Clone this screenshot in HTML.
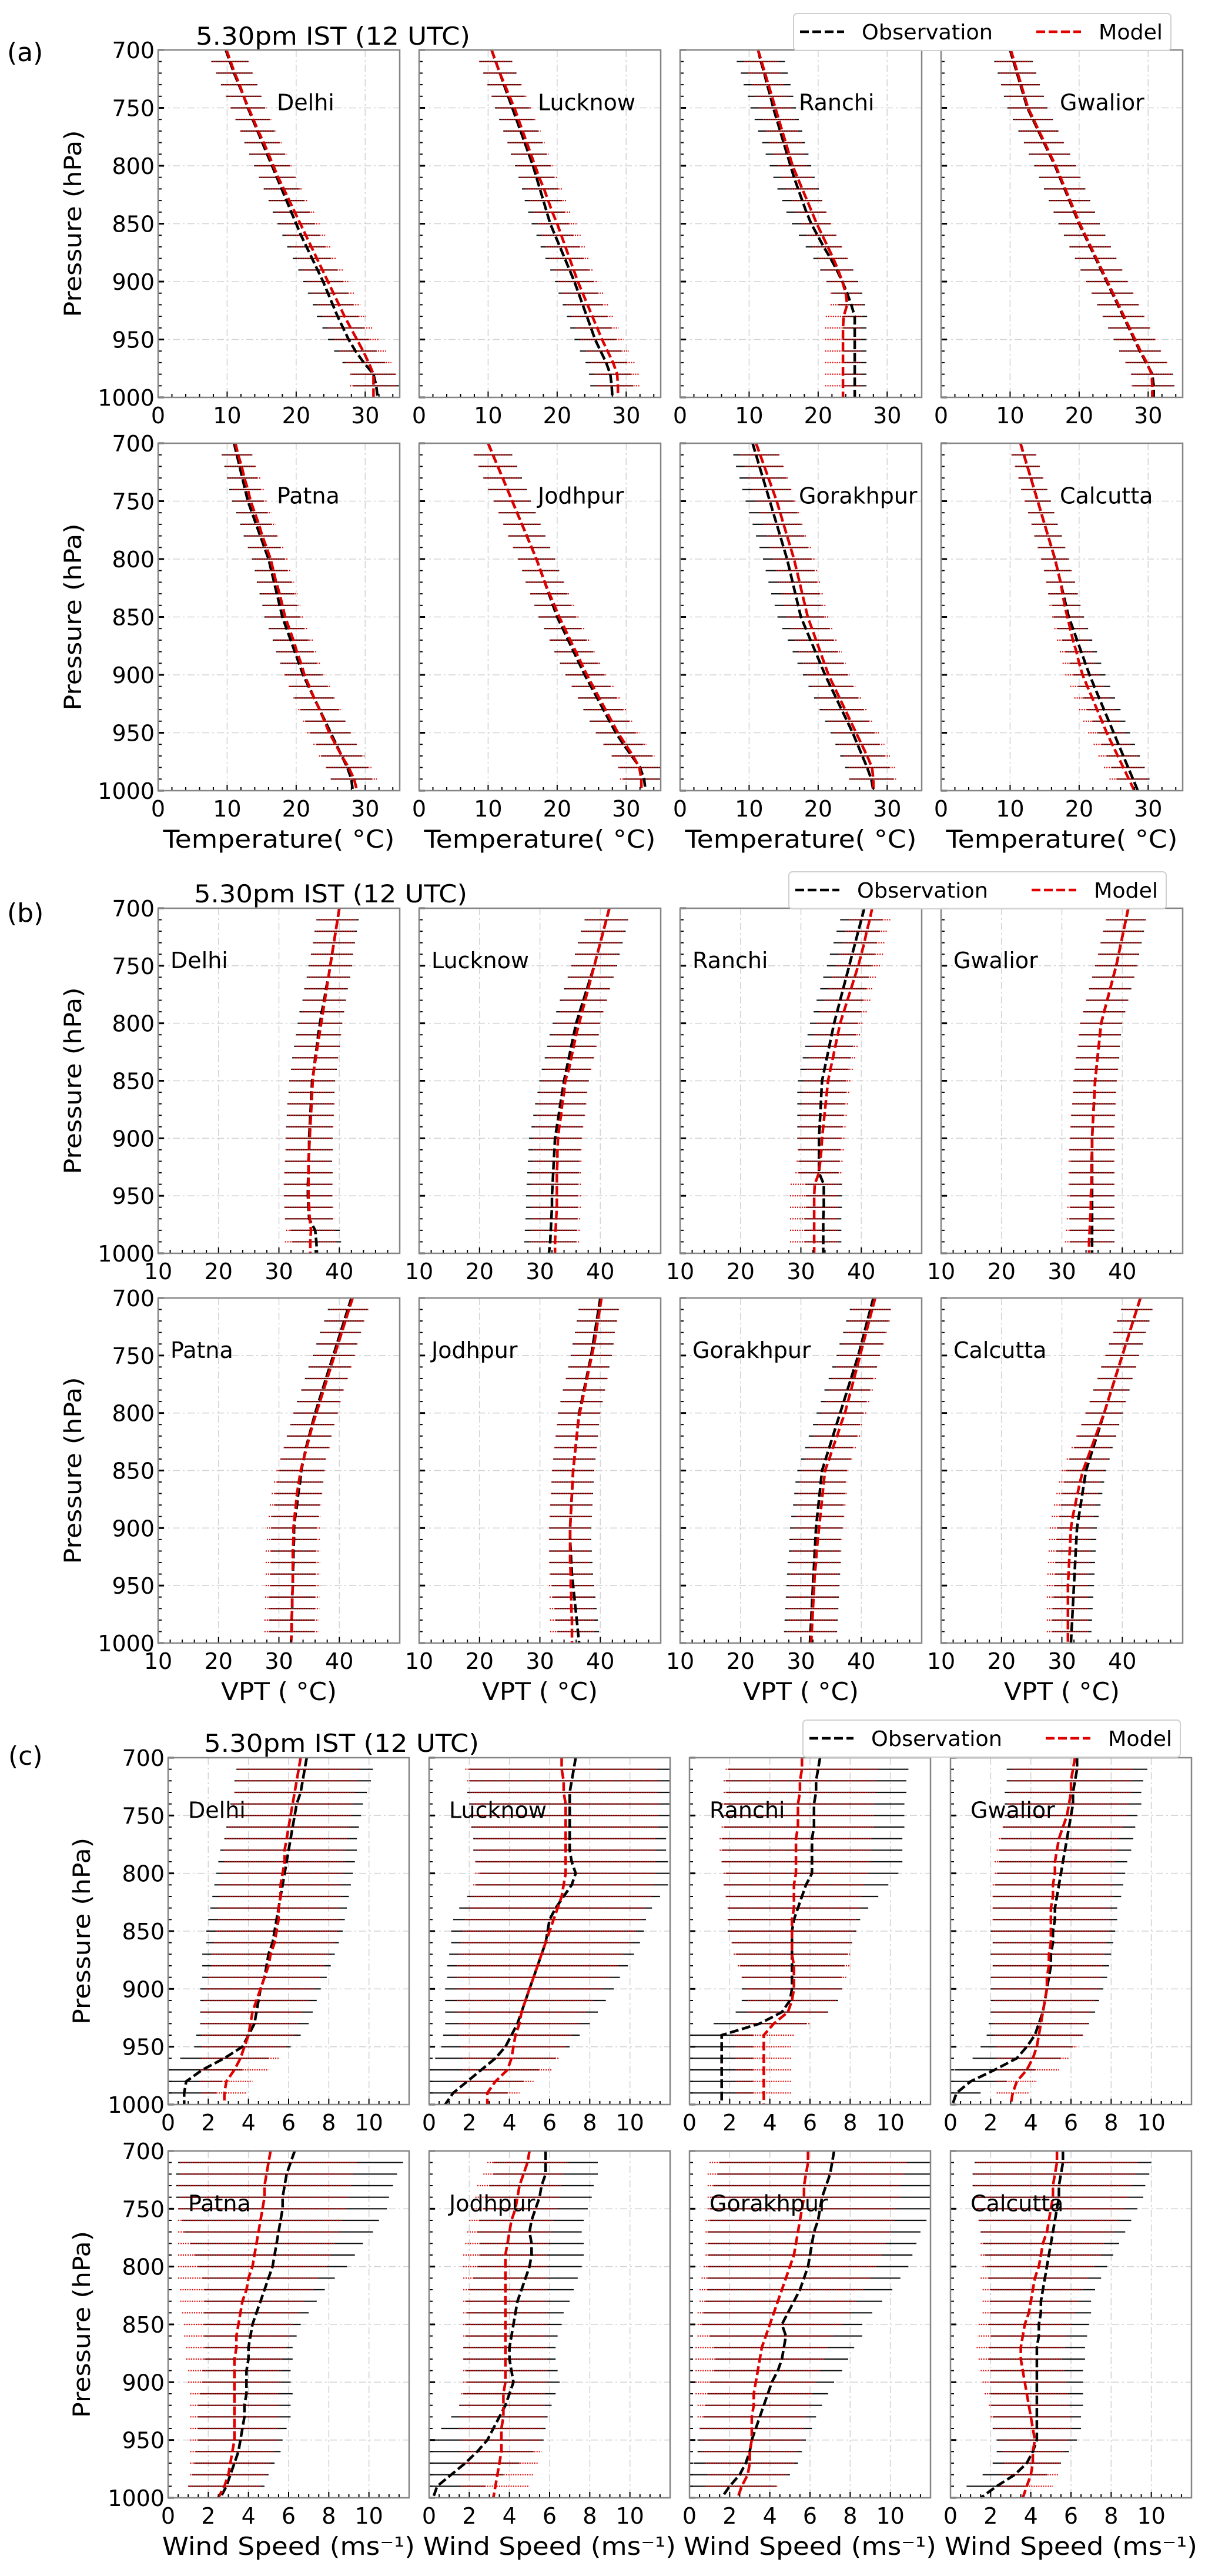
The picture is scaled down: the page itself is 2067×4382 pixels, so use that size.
<!DOCTYPE html>
<html><head><meta charset="utf-8">
<style>
html,body{margin:0;padding:0;background:#fff;}
svg{display:block;font-family:"DejaVu Sans","Liberation Sans",sans-serif;}
</style></head>
<body>
<svg id="fig" width="2067" height="4382" viewBox="0 0 2067 4382" xmlns="http://www.w3.org/2000/svg"></svg>
<script>
// ---------- pressure levels (hPa) ----------
const levels = [700,710,720,730,740,750,760,770,780,790,800,810,820,830,840,850,860,870,880,890,900,910,920,930,940,950,960,970,980,990,1000];
const stations = ["Delhi","Lucknow","Ranchi","Gwalior","Patna","Jodhpur","Gorakhpur","Calcutta"];
const tempTicks = [0,10,20,30];
const vptTicks = [10,20,30,40];
const windTicks = [0,2,4,6,8,10];
const pressureTicks = [700,750,800,850,900,950,1000];

// ---------- (a) temperature ----------
const aObsDelhi = [9.8,10.4,11.0,11.7,12.4,13.0,13.7,14.4,15.1,15.8,16.5,17.2,17.9,18.6,19.3,20.0,20.7,21.5,22.3,23.1,23.9,24.6,25.3,26.0,26.8,27.6,28.6,29.8,31.2,31.6,31.8];
const aModDelhi = [9.9,10.5,11.1,11.8,12.4,13.1,13.8,14.5,15.3,16.0,16.7,17.4,18.2,19.0,19.8,20.6,21.4,22.2,23.0,23.8,24.6,25.4,26.2,27.0,27.9,28.8,29.7,30.5,31.2,31.2,31.2];
const aEoDelhi = [2.7,2.7,2.6,2.6,2.5,2.5,2.5,2.5,2.6,2.6,2.6,2.6,2.6,2.6,2.7,2.7,2.7,2.8,2.8,2.8,2.9,2.9,2.9,3.0,3.0,3.0,3.1,3.1,3.2,3.3,3.3];
const aEmDelhi = [2.6,2.6,2.6,2.6,2.6,2.6,2.6,2.6,2.6,2.6,2.6,2.7,2.7,2.7,2.8,2.8,2.8,2.9,2.9,3.0,3.0,3.0,3.1,3.1,3.2,3.2,3.3,3.3,3.4,3.4,3.4];
const aObsLucknow = [10.5,11.1,11.7,12.3,12.9,13.5,14.1,14.7,15.3,15.9,16.5,17.0,17.5,18.0,18.5,19.0,19.7,20.4,21.1,21.8,22.5,23.1,23.7,24.3,24.9,25.5,26.3,27.1,27.7,27.9,28.0];
const aModLucknow = [10.5,11.1,11.7,12.4,13.1,13.8,14.4,15.0,15.6,16.2,16.8,17.4,18.1,18.7,19.3,20.0,20.6,21.2,21.8,22.4,23.0,23.7,24.4,25.1,25.8,26.5,27.3,28.1,28.7,28.8,28.8];
const aEoLucknow = [2.4,2.4,2.4,2.4,2.4,2.5,2.5,2.5,2.5,2.6,2.6,2.6,2.6,2.7,2.7,2.7,2.7,2.8,2.8,2.8,2.8,2.9,2.9,2.9,3.0,3.0,3.0,3.0,3.1,3.1,3.1];
const aEmLucknow = [2.4,2.4,2.4,2.5,2.5,2.5,2.5,2.6,2.6,2.6,2.6,2.7,2.7,2.7,2.7,2.8,2.8,2.8,2.9,2.9,2.9,3.0,3.0,3.0,3.1,3.1,3.1,3.2,3.2,3.2,3.2];
const aObsRanchi = [11.3,11.7,12.2,12.6,13.1,13.5,14.0,14.5,15.0,15.5,16.0,16.5,17.1,17.7,18.3,19.0,19.9,20.8,21.8,22.7,23.5,24.2,24.8,25.3,25.3,25.3,25.3,25.3,25.3,25.3,25.3];
const aModRanchi = [11.3,11.8,12.3,12.8,13.3,13.8,14.3,14.8,15.3,15.8,16.3,17.0,17.7,18.4,19.1,19.8,20.6,21.4,22.2,22.9,23.5,24.0,24.2,23.7,23.6,23.6,23.6,23.6,23.6,23.6,23.6];
const aEoRanchi = [3.5,3.5,3.4,3.4,3.3,3.3,3.2,3.2,3.1,3.1,3.0,3.0,3.0,2.9,2.9,2.8,2.7,2.6,2.5,2.4,2.3,2.2,2.0,1.8,1.7,1.7,1.7,1.7,1.7,1.7,1.7];
const aEmRanchi = [2.5,2.5,2.4,2.4,2.4,2.3,2.3,2.3,2.3,2.2,2.2,2.2,2.2,2.2,2.2,2.2,2.2,2.2,2.2,2.2,2.2,2.2,2.4,2.6,2.6,2.6,2.6,2.6,2.6,2.6,2.6];
const aObsGwalior = [10.0,10.5,11.0,11.5,12.0,12.5,13.3,14.1,14.9,15.7,16.5,17.2,17.9,18.6,19.3,20.0,20.8,21.6,22.4,23.2,24.0,24.8,25.6,26.4,27.2,28.0,28.8,29.7,30.6,30.8,30.8];
const aModGwalior = [10.1,10.6,11.1,11.6,12.1,12.6,13.4,14.2,15.0,15.8,16.6,17.3,18.0,18.7,19.4,20.1,20.9,21.7,22.5,23.3,24.1,24.9,25.7,26.5,27.3,28.1,28.9,29.8,30.5,30.6,30.6];
const aEoGwalior = [2.8,2.8,2.8,2.8,2.9,2.9,2.9,2.9,2.9,3.0,3.0,3.0,3.0,3.0,3.0,3.0,3.0,3.0,3.0,3.0,3.0,3.0,3.0,3.0,3.0,3.0,3.0,3.0,3.0,3.0,3.0];
const aEmGwalior = [2.6,2.6,2.6,2.7,2.7,2.7,2.7,2.8,2.8,2.8,2.8,2.8,2.8,2.9,2.9,2.9,2.9,2.9,2.9,3.0,3.0,3.0,3.0,3.0,3.0,3.0,3.0,3.0,3.0,3.0,3.0];
const aObsPatna = [11.0,11.4,11.8,12.2,12.6,13.0,13.6,14.2,14.8,15.4,16.0,16.4,16.8,17.2,17.6,18.0,18.6,19.2,19.8,20.4,21.0,21.8,22.6,23.4,24.2,25.0,25.8,26.6,27.4,28.0,28.2];
const aModPatna = [11.2,11.6,12.1,12.5,13.0,13.4,14.0,14.6,15.1,15.7,16.3,16.7,17.1,17.6,18.0,18.4,19.0,19.6,20.1,20.7,21.2,21.9,22.6,23.4,24.1,24.8,25.7,26.6,27.6,28.4,28.8];
const aEoPatna = [2.2,2.2,2.2,2.2,2.3,2.3,2.3,2.3,2.4,2.4,2.4,2.4,2.5,2.5,2.5,2.6,2.6,2.6,2.7,2.7,2.7,2.8,2.8,2.8,2.9,2.9,2.9,3.0,3.0,3.0,3.0];
const aEmPatna = [2.2,2.2,2.2,2.3,2.3,2.3,2.4,2.4,2.4,2.5,2.5,2.5,2.6,2.6,2.6,2.7,2.7,2.8,2.8,2.9,2.9,3.0,3.0,3.1,3.1,3.2,3.2,3.3,3.3,3.3,3.3];
const aObsJodhpur = [10.0,10.7,11.4,12.1,12.8,13.5,14.2,14.9,15.6,16.3,17.0,17.6,18.2,18.8,19.4,20.0,20.8,21.6,22.4,23.2,24.0,24.9,25.8,26.7,27.6,28.5,29.6,30.8,32.0,32.6,32.8];
const aModJodhpur = [10.0,10.7,11.4,12.1,12.8,13.5,14.2,14.9,15.6,16.3,17.0,17.6,18.2,18.9,19.6,20.3,21.1,21.9,22.7,23.5,24.3,25.2,26.1,27.0,27.9,28.8,29.9,31.0,31.9,32.2,32.2];
const aEoJodhpur = [2.8,2.8,2.8,2.8,2.8,2.7,2.7,2.7,2.7,2.7,2.7,2.7,2.7,2.7,2.7,2.7,2.7,2.7,2.8,2.8,2.8,2.8,2.8,2.9,2.9,2.9,2.9,2.9,3.0,3.0,3.0];
const aEmJodhpur = [2.7,2.7,2.7,2.7,2.7,2.7,2.7,2.7,2.7,2.7,2.7,2.7,2.8,2.8,2.8,2.8,2.8,2.9,2.9,2.9,2.9,3.0,3.0,3.0,3.0,3.1,3.1,3.1,3.1,3.1,3.1];
const aObsGorakhpur = [10.5,11.0,11.5,12.0,12.5,13.0,13.5,14.0,14.5,15.0,15.5,15.9,16.3,16.7,17.1,17.5,18.2,18.9,19.6,20.3,21.0,21.8,22.6,23.4,24.2,25.0,25.7,26.4,27.1,27.7,28.0];
const aModGorakhpur = [11.0,11.6,12.2,12.8,13.4,14.0,14.5,15.0,15.5,16.0,16.5,16.9,17.3,17.7,18.1,18.5,19.1,19.7,20.3,20.9,21.5,22.3,23.1,23.9,24.7,25.5,26.3,27.1,27.8,28.0,28.0];
const aEoGorakhpur = [3.3,3.3,3.4,3.4,3.5,3.5,3.5,3.5,3.5,3.5,3.5,3.5,3.5,3.5,3.4,3.4,3.4,3.3,3.3,3.3,3.2,3.2,3.2,3.2,3.2,3.2,3.2,3.2,3.2,3.2,3.2];
const aEmGorakhpur = [2.8,2.8,2.8,2.8,2.9,2.9,2.9,2.9,2.9,3.0,3.0,3.0,3.0,3.0,3.0,3.0,3.0,3.0,3.1,3.1,3.1,3.1,3.2,3.2,3.2,3.3,3.3,3.3,3.3,3.3,3.3];
const aObsCalcutta = [11.5,12.0,12.5,13.0,13.5,14.0,14.5,15.0,15.5,16.0,16.5,16.9,17.3,17.7,18.1,18.5,19.1,19.7,20.3,20.9,21.5,22.2,22.9,23.6,24.3,25.0,25.7,26.4,27.1,27.8,28.5];
const aModCalcutta = [11.5,12.0,12.5,13.0,13.5,14.0,14.5,15.0,15.5,16.0,16.5,16.9,17.3,17.6,17.9,18.3,18.7,19.1,19.6,20.0,20.5,21.2,21.9,22.6,23.3,24.0,24.8,25.6,26.4,27.2,28.0];
const aEoCalcutta = [1.8,1.8,1.8,1.8,1.9,1.9,1.9,1.9,2.0,2.0,2.0,2.0,2.1,2.1,2.1,2.2,2.2,2.2,2.3,2.3,2.3,2.3,2.3,2.4,2.4,2.4,2.4,2.4,2.4,2.4,2.4];
const aEmCalcutta = [1.8,1.8,1.8,1.8,1.8,1.9,1.9,1.9,1.9,2.0,2.0,2.0,2.1,2.1,2.2,2.2,2.3,2.3,2.4,2.4,2.5,2.5,2.6,2.6,2.7,2.7,2.7,2.8,2.8,2.8,2.8];

// ---------- (b) virtual potential temperature ----------
const bObsDelhi = [40.0,39.7,39.4,39.1,38.8,38.5,38.2,37.8,37.5,37.1,36.8,36.5,36.3,36.0,35.8,35.5,35.4,35.3,35.2,35.1,35.0,35.0,34.9,34.9,34.8,34.8,34.9,35.0,36.0,36.2,36.3];
const bModDelhi = [40.0,39.7,39.4,39.1,38.8,38.5,38.2,37.9,37.6,37.3,37.0,36.7,36.4,36.1,35.8,35.6,35.5,35.4,35.3,35.2,35.1,35.0,34.9,34.9,34.9,34.9,35.0,35.1,35.3,35.2,35.2];
const bEoDelhi = [3.5,3.5,3.5,3.5,3.5,3.6,3.6,3.6,3.6,3.7,3.7,3.7,3.8,3.8,3.8,3.8,3.8,3.9,3.9,3.9,3.9,3.9,3.9,4.0,4.0,4.0,4.0,4.0,4.1,4.1,4.1];
const bEmDelhi = [3.3,3.3,3.3,3.4,3.4,3.4,3.4,3.5,3.5,3.5,3.5,3.6,3.6,3.6,3.7,3.7,3.7,3.8,3.8,3.8,3.9,3.9,3.9,4.0,4.0,4.0,4.1,4.1,4.1,4.2,4.2];
const bObsLucknow = [41.5,41.0,40.5,40.0,39.5,39.0,38.4,37.8,37.2,36.6,36.0,35.6,35.2,34.8,34.4,34.0,33.7,33.4,33.1,32.8,32.5,32.4,32.3,32.2,32.1,32.0,32.0,31.9,31.8,31.7,31.5];
const bModLucknow = [41.5,41.0,40.5,40.0,39.5,39.0,38.5,38.0,37.5,37.0,36.5,36.0,35.6,35.2,34.8,34.2,34.0,33.7,33.5,33.2,33.0,32.9,32.9,32.8,32.8,32.8,32.8,32.7,32.6,32.5,32.5];
const bEoLucknow = [3.6,3.6,3.7,3.7,3.7,3.8,3.8,3.8,3.9,3.9,3.9,4.0,4.0,4.0,4.1,4.1,4.1,4.2,4.2,4.2,4.3,4.3,4.3,4.3,4.3,4.3,4.3,4.3,4.3,4.3,4.3];
const bEmLucknow = [3.4,3.4,3.5,3.5,3.5,3.6,3.6,3.6,3.7,3.7,3.7,3.8,3.8,3.8,3.9,3.9,3.9,4.0,4.0,4.0,4.0,4.0,4.0,4.0,4.0,4.0,4.0,4.0,4.0,4.0,4.0];
const bObsRanchi = [40.5,40.0,39.5,39.0,38.5,38.0,37.5,37.0,36.5,36.0,35.5,35.1,34.7,34.3,33.9,33.5,33.4,33.3,33.2,33.1,33.0,33.0,33.0,33.0,33.8,33.8,33.8,33.7,33.7,33.7,33.7];
const bModRanchi = [41.8,41.4,40.9,40.5,40.0,39.5,38.9,38.3,37.7,37.1,36.5,36.1,35.7,35.3,34.9,34.5,34.3,34.1,33.9,33.7,33.5,33.4,33.2,33.0,32.3,32.2,32.2,32.2,32.2,32.2,32.2];
const bEoRanchi = [3.5,3.5,3.6,3.6,3.7,3.7,3.8,3.8,3.9,3.9,4.0,4.0,4.0,4.0,4.0,4.0,4.0,3.9,3.8,3.7,3.6,3.5,3.4,3.3,3.0,3.0,3.0,3.0,3.0,3.0,3.0];
const bEmRanchi = [3.4,3.4,3.5,3.5,3.6,3.6,3.7,3.7,3.8,3.8,3.9,3.9,3.9,3.9,3.9,3.9,3.9,3.9,3.9,3.9,3.9,3.9,3.9,3.9,4.0,4.0,4.0,4.0,4.0,4.0,4.0];
const bObsGwalior = [41.0,40.6,40.2,39.8,39.4,39.0,38.5,38.0,37.5,37.0,36.5,36.3,36.1,35.9,35.7,35.5,35.4,35.3,35.2,35.1,35.0,35.0,35.0,35.0,35.0,35.0,35.0,35.0,35.0,35.0,35.0];
const bModGwalior = [41.0,40.6,40.2,39.8,39.4,39.0,38.5,38.0,37.5,37.0,36.5,36.3,36.1,35.9,35.7,35.5,35.4,35.3,35.2,35.1,35.0,35.0,34.9,34.9,34.9,34.8,34.8,34.7,34.6,34.5,34.5];
const bEoGwalior = [3.3,3.3,3.4,3.4,3.4,3.5,3.5,3.5,3.5,3.5,3.5,3.5,3.5,3.6,3.6,3.6,3.6,3.6,3.6,3.6,3.6,3.6,3.6,3.7,3.7,3.7,3.7,3.7,3.7,3.7,3.7];
const bEmGwalior = [3.2,3.2,3.3,3.3,3.3,3.4,3.4,3.4,3.4,3.5,3.5,3.5,3.5,3.5,3.6,3.6,3.6,3.6,3.7,3.7,3.7,3.8,3.8,3.8,3.8,3.9,3.9,3.9,3.9,4.0,4.0];
const bObsPatna = [42.0,41.4,40.8,40.2,39.6,39.0,38.4,37.8,37.2,36.6,36.0,35.5,35.0,34.5,34.1,33.7,33.5,33.2,33.0,32.7,32.5,32.5,32.4,32.4,32.3,32.3,32.2,32.2,32.1,32.1,32.0];
const bModPatna = [42.2,41.6,41.0,40.4,39.8,39.2,38.6,38.0,37.4,36.8,36.2,35.6,35.1,34.6,34.1,33.6,33.3,33.0,32.8,32.6,32.4,32.4,32.3,32.3,32.3,32.3,32.2,32.2,32.1,32.1,32.0];
const bEoPatna = [3.3,3.3,3.3,3.4,3.4,3.4,3.5,3.5,3.5,3.6,3.6,3.6,3.7,3.7,3.7,3.8,3.8,3.8,3.8,3.8,3.8,3.8,3.8,3.8,3.8,3.8,3.8,3.8,3.8,3.8,3.8];
const bEmPatna = [3.2,3.2,3.3,3.3,3.3,3.4,3.4,3.4,3.5,3.5,3.6,3.6,3.7,3.8,3.9,4.0,4.1,4.2,4.3,4.3,4.4,4.4,4.5,4.5,4.5,4.5,4.5,4.5,4.5,4.5,4.5];
const bObsJodhpur = [40.0,39.7,39.4,39.1,38.8,38.5,38.1,37.7,37.3,36.9,36.5,36.3,36.1,35.9,35.7,35.5,35.4,35.3,35.2,35.1,35.0,35.0,35.1,35.2,35.3,35.5,35.7,35.9,36.1,36.3,36.5];
const bModJodhpur = [40.2,39.9,39.6,39.3,39.0,38.6,38.2,37.8,37.4,37.0,36.6,36.3,36.1,35.9,35.7,35.5,35.4,35.3,35.2,35.1,35.0,35.0,35.0,35.0,35.1,35.1,35.2,35.2,35.3,35.3,35.3];
const bEoJodhpur = [3.3,3.3,3.3,3.3,3.4,3.4,3.4,3.4,3.5,3.5,3.5,3.5,3.5,3.5,3.5,3.5,3.5,3.5,3.5,3.5,3.5,3.5,3.5,3.5,3.5,3.5,3.5,3.5,3.5,3.5,3.5];
const bEmJodhpur = [3.2,3.2,3.2,3.3,3.3,3.3,3.3,3.4,3.4,3.4,3.4,3.4,3.5,3.5,3.5,3.5,3.5,3.5,3.5,3.5,3.5,3.5,3.5,3.5,3.5,3.6,3.6,3.6,3.6,3.6,3.6];
const bObsGorakhpur = [42.0,41.5,41.0,40.5,40.0,39.5,38.9,38.3,37.7,37.1,36.5,35.9,35.3,34.7,34.1,33.5,33.3,33.1,32.9,32.7,32.5,32.4,32.3,32.2,32.1,32.0,31.9,31.8,31.7,31.6,31.5];
const bModGorakhpur = [42.3,41.8,41.3,40.8,40.3,39.8,39.3,38.8,38.3,37.8,37.3,36.6,36.0,35.3,34.7,34.0,33.8,33.6,33.4,33.2,33.0,32.8,32.6,32.5,32.3,32.2,32.1,32.0,31.9,31.8,31.7];
const bEoGorakhpur = [3.4,3.4,3.5,3.5,3.6,3.6,3.7,3.7,3.8,3.8,3.9,3.9,4.0,4.0,4.1,4.1,4.2,4.2,4.2,4.3,4.3,4.3,4.3,4.4,4.4,4.4,4.4,4.4,4.4,4.4,4.4];
const bEmGorakhpur = [3.3,3.3,3.4,3.4,3.4,3.5,3.5,3.6,3.6,3.7,3.7,3.7,3.8,3.8,3.9,3.9,3.9,4.0,4.0,4.0,4.0,4.1,4.1,4.1,4.1,4.1,4.1,4.1,4.1,4.1,4.1];
const bObsCalcutta = [43.0,42.4,41.8,41.2,40.6,40.0,39.4,38.8,38.2,37.6,37.0,36.4,35.8,35.2,34.6,34.0,33.7,33.4,33.1,32.8,32.5,32.4,32.3,32.2,32.1,32.0,31.9,31.8,31.7,31.6,31.5];
const bModCalcutta = [43.0,42.4,41.8,41.2,40.6,40.0,39.4,38.8,38.2,37.6,37.0,36.3,35.6,34.9,34.2,33.5,33.0,32.6,32.2,31.8,31.5,31.4,31.3,31.2,31.1,31.0,31.0,31.0,31.0,31.0,31.0];
const bEoCalcutta = [2.6,2.6,2.7,2.7,2.8,2.8,2.9,2.9,3.0,3.0,3.1,3.1,3.2,3.2,3.3,3.3,3.3,3.3,3.3,3.3,3.3,3.3,3.3,3.3,3.3,3.3,3.3,3.3,3.3,3.3,3.3];
const bEmCalcutta = [2.6,2.6,2.7,2.7,2.7,2.8,2.8,2.9,2.9,3.0,3.0,3.1,3.2,3.3,3.4,3.5,3.5,3.5,3.5,3.5,3.5,3.5,3.5,3.5,3.5,3.5,3.5,3.5,3.5,3.5,3.5];

// ---------- (c) wind speed ----------
const cObsDelhi = [6.9,6.8,6.7,6.6,6.4,6.3,6.2,6.1,6.0,5.9,5.8,5.7,5.6,5.5,5.4,5.3,5.2,5.0,4.9,4.8,4.6,4.5,4.4,4.3,4.0,3.7,2.8,1.7,0.9,0.8,0.8];
const cModDelhi = [6.6,6.5,6.4,6.3,6.2,6.1,6.0,5.9,5.8,5.8,5.7,5.6,5.6,5.5,5.5,5.4,5.3,5.1,5.0,4.8,4.6,4.4,4.2,4.1,4.0,3.8,3.6,3.3,2.9,2.8,2.8];
const cEoDelhi = [3.4,3.4,3.4,3.3,3.3,3.3,3.3,3.3,3.4,3.4,3.4,3.4,3.4,3.4,3.4,3.4,3.3,3.3,3.2,3.1,3.0,2.9,2.8,2.7,2.6,2.4,2.2,2.0,1.8,1.6,1.6];
const cEmDelhi = [3.0,3.0,3.0,3.0,3.0,3.0,3.0,3.0,3.0,3.0,3.0,3.0,3.0,3.0,3.0,3.0,3.0,2.9,2.8,2.8,2.7,2.6,2.5,2.4,2.3,2.1,1.9,1.7,1.3,1.1,1.1];
const cObsLucknow = [7.3,7.2,7.1,7.0,7.0,7.0,7.0,7.0,7.0,7.1,7.3,7.1,6.7,6.3,6.0,5.9,5.8,5.6,5.4,5.2,5.0,4.8,4.6,4.4,4.1,3.8,3.3,2.6,1.9,1.2,0.8];
const cModLucknow = [6.6,6.6,6.7,6.7,6.8,6.8,6.8,6.8,6.8,6.8,6.8,6.7,6.6,6.4,6.2,6.0,5.8,5.6,5.4,5.2,5.0,4.8,4.6,4.5,4.3,4.2,4.1,3.9,3.3,2.9,2.9];
const cEoLucknow = [5.2,5.2,5.1,5.1,5.0,5.0,4.9,4.8,4.8,4.8,4.8,4.8,4.8,4.8,4.8,4.8,4.7,4.6,4.5,4.3,4.2,4.0,3.8,3.6,3.4,3.2,3.0,2.9,2.8,2.7,2.6];
const cEmLucknow = [4.8,4.8,4.8,4.7,4.7,4.6,4.6,4.5,4.5,4.5,4.5,4.5,4.5,4.4,4.4,4.3,4.2,4.1,4.0,3.8,3.6,3.4,3.2,3.0,2.8,2.6,2.4,2.2,1.9,1.6,1.6];
const cObsRanchi = [6.5,6.4,6.3,6.3,6.2,6.2,6.2,6.1,6.1,6.1,6.1,5.8,5.6,5.4,5.2,5.1,5.1,5.1,5.1,5.1,5.1,5.0,4.6,3.5,1.6,1.6,1.6,1.6,1.6,1.6,1.6];
const cModRanchi = [5.6,5.6,5.5,5.5,5.4,5.4,5.4,5.3,5.3,5.3,5.3,5.2,5.2,5.2,5.1,5.1,5.1,5.1,5.2,5.2,5.2,5.1,4.9,4.2,3.7,3.7,3.7,3.7,3.7,3.7,3.7];
const cEoRanchi = [4.5,4.5,4.5,4.5,4.5,4.5,4.5,4.5,4.5,4.5,4.3,4.1,3.8,3.5,3.3,3.2,3.0,2.8,2.6,2.5,2.5,2.4,2.3,2.3,1.6,1.6,1.6,1.6,1.6,1.6,1.6];
const cEmRanchi = [3.8,3.8,3.8,3.8,3.8,3.8,3.8,3.8,3.8,3.7,3.6,3.5,3.4,3.3,3.2,3.1,3.0,2.9,2.8,2.6,2.4,2.2,2.0,1.8,1.5,1.4,1.4,1.4,1.4,1.4,1.4];
const cObsGwalior = [6.3,6.3,6.2,6.1,6.1,6.0,5.9,5.8,5.7,5.6,5.5,5.4,5.3,5.2,5.2,5.1,5.1,5.0,5.0,4.9,4.8,4.7,4.6,4.4,4.2,3.8,3.3,2.2,1.0,0.3,0.1];
const cModGwalior = [6.2,6.1,6.0,6.0,5.9,5.8,5.6,5.4,5.3,5.2,5.2,5.1,5.1,5.0,5.0,5.0,5.0,4.9,4.9,4.8,4.8,4.7,4.6,4.5,4.4,4.3,4.1,3.8,3.3,3.1,3.0];
const cEoGwalior = [3.5,3.5,3.4,3.4,3.4,3.3,3.3,3.3,3.3,3.2,3.2,3.2,3.2,3.1,3.1,3.1,3.0,3.0,2.9,2.9,2.8,2.7,2.6,2.5,2.4,2.3,2.2,2.0,1.8,1.2,1.0];
const cEmGwalior = [3.0,3.0,3.0,3.0,3.0,3.0,3.0,3.0,3.0,3.0,3.0,3.0,3.0,2.9,2.9,2.9,2.8,2.8,2.7,2.7,2.6,2.5,2.4,2.3,2.2,2.0,1.8,1.6,1.0,0.8,0.8];
const cObsPatna = [6.3,6.1,5.9,5.8,5.7,5.7,5.6,5.5,5.4,5.3,5.2,5.0,4.8,4.6,4.4,4.2,4.1,4.0,4.0,3.9,3.9,3.9,3.8,3.8,3.7,3.6,3.5,3.3,3.1,2.9,2.6];
const cModPatna = [5.1,5.0,4.9,4.8,4.8,4.7,4.6,4.5,4.4,4.3,4.2,4.0,3.9,3.7,3.6,3.5,3.4,3.4,3.3,3.3,3.3,3.3,3.3,3.3,3.3,3.3,3.2,3.1,3.0,2.8,2.5];
const cEoPatna = [5.6,5.6,5.5,5.4,5.3,5.2,4.9,4.7,4.3,4.0,3.7,3.3,3.0,2.8,2.6,2.4,2.3,2.2,2.2,2.2,2.2,2.3,2.3,2.3,2.2,2.1,2.1,2.0,1.9,1.9,1.9];
const cEmPatna = [4.4,4.4,4.3,4.3,4.2,4.2,4.1,4.0,3.9,3.8,3.7,3.5,3.3,3.1,2.9,2.7,2.6,2.5,2.4,2.3,2.3,2.2,2.2,2.2,2.2,2.2,2.1,2.0,1.9,1.8,1.8];
const cObsJodhpur = [5.8,5.8,5.8,5.6,5.5,5.3,5.1,5.0,5.1,5.1,5.0,4.8,4.6,4.4,4.3,4.2,4.1,4.0,4.0,4.1,4.2,4.0,3.8,3.5,3.2,2.9,2.4,1.8,1.1,0.4,0.2];
const cModJodhpur = [5.0,4.9,4.7,4.5,4.4,4.3,4.1,4.0,3.9,3.8,3.8,3.8,3.8,3.8,3.8,3.8,3.8,3.8,3.8,3.8,3.8,3.7,3.7,3.7,3.6,3.6,3.6,3.5,3.4,3.3,3.2];
const cEoJodhpur = [2.6,2.6,2.6,2.6,2.6,2.6,2.6,2.6,2.6,2.6,2.6,2.6,2.6,2.6,2.4,2.4,2.3,2.3,2.3,2.3,2.3,2.3,2.3,2.4,2.6,2.8,2.8,2.7,2.6,2.4,2.2];
const cEmJodhpur = [2.0,2.0,2.0,2.1,2.1,2.1,2.1,2.1,2.1,2.1,2.1,2.1,2.1,2.1,2.1,2.1,2.1,2.1,2.1,2.1,2.1,2.1,2.1,2.1,2.1,2.0,2.0,1.9,1.8,1.7,1.6];
const cObsGorakhpur = [7.2,7.1,7.0,6.8,6.6,6.5,6.4,6.2,6.1,6.0,5.9,5.7,5.5,5.2,4.9,4.6,4.8,4.7,4.6,4.4,4.1,3.9,3.7,3.5,3.3,3.1,3.0,2.8,2.5,2.0,1.6];
const cModGorakhpur = [5.9,5.9,5.8,5.7,5.7,5.6,5.5,5.4,5.3,5.2,5.0,4.8,4.6,4.4,4.2,4.0,3.8,3.6,3.5,3.4,3.3,3.2,3.2,3.1,3.1,3.1,3.0,3.0,2.9,2.6,2.4];
const cEoGorakhpur = [5.5,5.6,5.6,5.6,5.5,5.5,5.4,5.3,5.2,5.1,5.0,4.8,4.6,4.4,4.2,4.0,3.8,3.5,3.3,3.2,3.1,3.0,2.9,2.8,2.8,2.7,2.6,2.6,2.5,2.3,2.0];
const cEmGorakhpur = [4.9,4.9,4.9,4.8,4.8,4.7,4.7,4.6,4.5,4.4,4.3,4.2,4.1,3.9,3.8,3.6,3.4,3.3,3.2,3.1,3.0,2.9,2.8,2.7,2.6,2.5,2.4,2.2,2.0,1.8,1.7];
const cObsCalcutta = [5.6,5.6,5.5,5.4,5.4,5.3,5.2,5.1,5.0,4.9,4.8,4.7,4.6,4.5,4.5,4.4,4.4,4.3,4.3,4.3,4.3,4.3,4.3,4.3,4.3,4.3,4.1,3.8,3.2,2.3,1.5];
const cModCalcutta = [5.3,5.3,5.2,5.1,5.1,5.0,4.9,4.8,4.6,4.5,4.4,4.2,4.1,4.0,3.9,3.7,3.6,3.5,3.5,3.6,3.7,3.8,3.9,4.0,4.1,4.2,4.1,4.1,4.0,3.8,3.6];
const cEoCalcutta = [4.4,4.4,4.4,4.3,4.2,4.0,3.8,3.6,3.4,3.2,3.0,2.8,2.6,2.5,2.5,2.5,2.4,2.4,2.4,2.3,2.3,2.3,2.3,2.2,2.2,2.0,1.8,1.7,1.6,1.5,1.5];
const cEmCalcutta = [4.0,4.0,4.0,3.9,3.8,3.7,3.5,3.3,3.1,3.0,2.8,2.7,2.5,2.4,2.3,2.3,2.2,2.2,2.1,2.1,2.1,2.1,2.0,2.0,1.9,1.7,1.5,1.4,1.4,1.3,1.3];

const NS = "http://www.w3.org/2000/svg";
const svg = document.getElementById("fig");
function el(tag, parent, attrs) {
  const e = document.createElementNS(NS, tag);
  for (const k in attrs) e.setAttribute(k, attrs[k]);
  parent.appendChild(e);
  return e;
}
function txt(parent, x, y, s, size, extra) {
  const t = el("text", parent, Object.assign({x: x, y: y, "font-size": size, fill: "#000"}, extra || {}));
  t.textContent = s;
  return t;
}
const defs = el("defs", svg, {});

const sections = [
  {key: "a", tops: [85, 754], h: 591, lefts: [269,713,1157,1601], w: 411, xmin: 0, xmax: 35, ticks: tempTicks, minor: 2,
   xlabel: "Temperature( °C)", xlabelLen: 394, nameDx: 202, ylabelX: 125,
   obs: [aObsDelhi,aObsLucknow,aObsRanchi,aObsGwalior,aObsPatna,aObsJodhpur,aObsGorakhpur,aObsCalcutta],
   mod: [aModDelhi,aModLucknow,aModRanchi,aModGwalior,aModPatna,aModJodhpur,aModGorakhpur,aModCalcutta],
   eo: [aEoDelhi,aEoLucknow,aEoRanchi,aEoGwalior,aEoPatna,aEoJodhpur,aEoGorakhpur,aEoCalcutta],
   em: [aEmDelhi,aEmLucknow,aEmRanchi,aEmGwalior,aEmPatna,aEmJodhpur,aEmGorakhpur,aEmCalcutta],
   title: {x: 333, y: 76, len: 467}, letter: {x: 12, y: 104, s: "(a)"}, legend: {x: 1350, y: 23}},
  {key: "b", tops: [1545, 2208], h: 587, lefts: [269,713,1157,1601], w: 411, xmin: 10, xmax: 50, ticks: vptTicks, minor: 2,
   xlabel: "VPT ( °C)", xlabelLen: 197, nameDx: 21, ylabelX: 125,
   obs: [bObsDelhi,bObsLucknow,bObsRanchi,bObsGwalior,bObsPatna,bObsJodhpur,bObsGorakhpur,bObsCalcutta],
   mod: [bModDelhi,bModLucknow,bModRanchi,bModGwalior,bModPatna,bModJodhpur,bModGorakhpur,bModCalcutta],
   eo: [bEoDelhi,bEoLucknow,bEoRanchi,bEoGwalior,bEoPatna,bEoJodhpur,bEoGorakhpur,bEoCalcutta],
   em: [bEmDelhi,bEmLucknow,bEmRanchi,bEmGwalior,bEmPatna,bEmJodhpur,bEmGorakhpur,bEmCalcutta],
   title: {x: 330, y: 1535, len: 465}, letter: {x: 12, y: 1568, s: "(b)"}, legend: {x: 1342, y: 1483}},
  {key: "c", tops: [2990, 3659], h: 590, lefts: [286,730,1173,1617], w: 410, xmin: 0, xmax: 12, ticks: windTicks, minor: 0.5,
   xlabel: "Wind Speed (ms⁻¹)", xlabelLen: 430, nameDx: 34, ylabelX: 140,
   obs: [cObsDelhi,cObsLucknow,cObsRanchi,cObsGwalior,cObsPatna,cObsJodhpur,cObsGorakhpur,cObsCalcutta],
   mod: [cModDelhi,cModLucknow,cModRanchi,cModGwalior,cModPatna,cModJodhpur,cModGorakhpur,cModCalcutta],
   eo: [cEoDelhi,cEoLucknow,cEoRanchi,cEoGwalior,cEoPatna,cEoJodhpur,cEoGorakhpur,cEoCalcutta],
   em: [cEmDelhi,cEmLucknow,cEmRanchi,cEmGwalior,cEmPatna,cEmJodhpur,cEmGorakhpur,cEmCalcutta],
   title: {x: 347, y: 2980, len: 468}, letter: {x: 14, y: 3002, s: "(c)"}, legend: {x: 1366, y: 2926}}
];

let clipId = 0;
sections.forEach(function(sec) {
  const g = el("g", svg, {});
  
  

  const lt = txt(g, sec.letter.x, sec.letter.y, sec.letter.s, 44);
  
  
  const tt = txt(g, sec.title.x, sec.title.y, "5.30pm IST (12 UTC)", 42, {textLength: sec.title.len, lengthAdjust: "spacingAndGlyphs"});
  
  

  stations.forEach(function(name, si) {
    const row = Math.floor(si / 4), col = si % 4;
    const x0 = sec.lefts[col], y0 = sec.tops[row], w = sec.w, h = sec.h;
    const xs = function(v) { return x0 + (v - sec.xmin) / (sec.xmax - sec.xmin) * w; };
    const ys = function(p) { return y0 + (p - 700) / 300 * h; };
    const pg = el("g", g, {});
    
    

    clipId++;
    const cp = el("clipPath", defs, {id: "cp" + clipId});
    el("rect", cp, {x: x0, y: y0 - 2, width: w, height: h + 4});

    // grid
    sec.ticks.forEach(function(t) {
      if (t === sec.xmin) return;
      const gl = el("line", pg, {x1: xs(t), x2: xs(t), y1: y0, y2: y0 + h, stroke: "#d4d4d4", "stroke-width": 1.6, "stroke-dasharray": "12 5 3 5"});
      
      
    });
    pressureTicks.forEach(function(p) {
      if (p === 700 || p === 1000) return;
      const gl = el("line", pg, {x1: x0, x2: x0 + w, y1: ys(p), y2: ys(p), stroke: "#d4d4d4", "stroke-width": 1.6, "stroke-dasharray": "12 5 3 5"});
      
      
    });

    // error bars
    const eb = el("g", pg, {"clip-path": "url(#cp" + clipId + ")"});
    
    
    const obs = sec.obs[si], mod = sec.mod[si], eo = sec.eo[si], em = sec.em[si];
    for (let i = 1; i < levels.length - 1; i++) {
      const y = ys(levels[i]);
      const bo = el("line", eb, {x1: xs(obs[i] - eo[i]), x2: xs(obs[i] + eo[i]), y1: y, y2: y, stroke: "#111", "stroke-width": 2.2});
      
      
      const bm = el("line", eb, {x1: xs(mod[i] - em[i]), x2: xs(mod[i] + em[i]), y1: y, y2: y, stroke: "#e00000", "stroke-width": 2.2, "stroke-dasharray": "2 2"});
      
      
    }

    // profile lines
    const lg = el("g", pg, {"clip-path": "url(#cp" + clipId + ")"});
    const ptsO = levels.map(function(p, i) { return xs(obs[i]).toFixed(1) + "," + ys(p).toFixed(1); }).join(" ");
    const lo = el("polyline", lg, {points: ptsO, fill: "none", stroke: "#000", "stroke-width": 4.5, "stroke-dasharray": "15 6"});
    
    
    const ptsM = levels.map(function(p, i) { return xs(mod[i]).toFixed(1) + "," + ys(p).toFixed(1); }).join(" ");
    const lm = el("polyline", lg, {points: ptsM, fill: "none", stroke: "#e00000", "stroke-width": 4.5, "stroke-dasharray": "15 6"});
    
    

    // ticks
    const tk = el("g", pg, {stroke: "#000", "stroke-width": 2});
    
    
    levels.forEach(function(p) {
      const major = (p % 50 === 0);
      el("line", tk, {x1: x0, x2: x0 + (major ? 10 : 6), y1: ys(p), y2: ys(p), "stroke-width": major ? 3 : 2});
    });
    for (let v = sec.xmin; v <= sec.xmax + 1e-6; v += sec.minor) {
      const major = sec.ticks.indexOf(Math.round(v * 10) / 10) >= 0;
      el("line", tk, {x1: xs(v), x2: xs(v), y1: y0 + h, y2: y0 + h - (major ? 10 : 6)});
    }

    // frame
    const fr = el("rect", pg, {x: x0, y: y0, width: w, height: h, fill: "none", stroke: "#858585", "stroke-width": 2.5});
    
    

    // station name
    const nm = txt(pg, x0 + sec.nameDx, ys(750) + 4, name, 38);
    
    

    // x tick labels
    sec.ticks.forEach(function(t) {
      const xl = txt(pg, xs(t), y0 + h + 44, String(t), 38, {"text-anchor": "middle"});
      
      
    });
    // y tick labels + y label (first column)
    if (col === 0) {
      pressureTicks.forEach(function(p) {
        const yl = txt(pg, x0 - 6, ys(p) + 14, String(p), 38, {"text-anchor": "end"});
        
        
      });
      const cy = y0 + h / 2;
      const yt = txt(pg, sec.ylabelX + 13, cy, "Pressure (hPa)", 40, {"text-anchor": "middle", transform: "rotate(-90 " + (sec.ylabelX + 13) + " " + cy + ")", textLength: 318, lengthAdjust: "spacingAndGlyphs"});
      
      
    }
    if (row === 1) {
      const xt = txt(pg, x0 + w / 2, y0 + h + 97, sec.xlabel, 42, {"text-anchor": "middle", textLength: sec.xlabelLen, lengthAdjust: "spacingAndGlyphs"});
      
      
    }
  });

  // legend
  const L = sec.legend;
  const lgG = el("g", g, {});
  
  
  el("rect", lgG, {x: L.x, y: L.y, width: 642, height: 63, rx: 6, fill: "#fff", "fill-opacity": 0.9, stroke: "#d0d0d0", "stroke-width": 2});
  const e1 = el("line", lgG, {x1: L.x + 11, x2: L.x + 86, y1: L.y + 31, y2: L.y + 31, stroke: "#000", "stroke-width": 4.5, "stroke-dasharray": "15 6"});
  
  
  const t1 = txt(lgG, L.x + 116, L.y + 44, "Observation", 36, {textLength: 223, lengthAdjust: "spacingAndGlyphs"});
  
  
  const e2 = el("line", lgG, {x1: L.x + 413, x2: L.x + 489, y1: L.y + 31, y2: L.y + 31, stroke: "#e00000", "stroke-width": 4.5, "stroke-dasharray": "15 6"});
  
  
  const t2 = txt(lgG, L.x + 519, L.y + 44, "Model", 36, {textLength: 109, lengthAdjust: "spacingAndGlyphs"});
  
  
});
</script>
</body></html>
